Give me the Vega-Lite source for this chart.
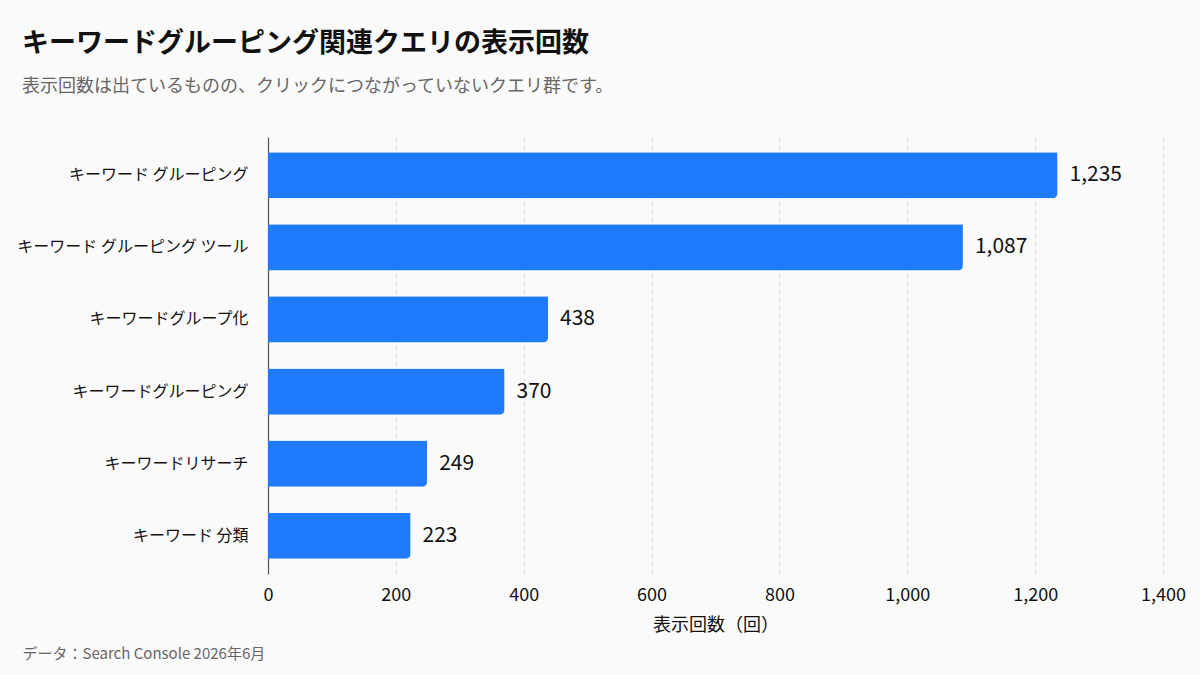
{
  "$schema": "https://vega.github.io/schema/vega-lite/v6.json",
  "width": 895,
  "height": 437,
  "autosize": {"type": "none"},
  "padding": {"left": 268, "top": 137, "right": 37, "bottom": 101},
  "background": "#fafafa",
  "title": {
    "text": "キーワードグルーピング関連クエリの表示回数",
    "subtitle": "表示回数は出ているものの、クリックにつながっていないクエリ群です。",
    "anchor": "start",
    "frame": "group",
    "dx": -246,
    "offset": 40,
    "font": "Noto Sans CJK JP",
    "fontSize": 27,
    "fontWeight": "bold",
    "color": "#111111",
    "subtitleFont": "Noto Sans CJK JP",
    "subtitleFontSize": 18,
    "subtitleColor": "#666666",
    "subtitlePadding": 20
  },
  "config": {
    "view": {"stroke": null},
    "font": "Noto Sans CJK JP"
  },
  "data": {
    "values": [
      {"query": "キーワード グルーピング", "impressions": 1235},
      {"query": "キーワード グルーピング ツール", "impressions": 1087},
      {"query": "キーワードグループ化", "impressions": 438},
      {"query": "キーワードグルーピング", "impressions": 370},
      {"query": "キーワードリサーチ", "impressions": 249},
      {"query": "キーワード 分類", "impressions": 223}
    ]
  },
  "encoding": {
    "y": {
      "field": "query",
      "type": "nominal",
      "sort": null,
      "scale": {"paddingInner": 0.36, "paddingOuter": 0.21},
      "axis": {
        "title": "データ：Search Console 2026年6月",
        "titleAngle": 0,
        "titleAlign": "left",
        "titleBaseline": "middle",
        "titleX": -246,
        "titleY": 516,
        "titleFontSize": 15,
        "titleFontWeight": "normal",
        "titleColor": "#666666",
        "labelFontSize": 16,
        "labelColor": "#111111",
        "labelPadding": 20,
        "labelLimit": 300,
        "ticks": false,
        "domainColor": "#555555",
        "domainWidth": 1.2,
        "grid": false
      }
    },
    "x": {
      "field": "impressions",
      "type": "quantitative",
      "scale": {"domain": [0, 1400], "nice": false},
      "axis": {
        "title": "表示回数（回）",
        "titleFontSize": 18,
        "titleFontWeight": "normal",
        "titleColor": "#111111",
        "titlePadding": 12,
        "values": [0, 200, 400, 600, 800, 1000, 1200, 1400],
        "format": ",d",
        "labelFontSize": 18,
        "labelColor": "#111111",
        "labelPadding": 12,
        "labelFlush": false,
        "ticks": false,
        "domain": false,
        "grid": true,
        "gridColor": "#d9d9d9",
        "gridDash": [4, 4],
        "gridWidth": 1
      }
    }
  },
  "layer": [
    {
      "mark": {"type": "bar", "color": "#1f7bfc", "cornerRadiusBottomRight": 5}
    },
    {
      "mark": {
        "type": "text",
        "align": "left",
        "baseline": "middle",
        "dx": 12,
        "fontSize": 21,
        "color": "#111111"
      },
      "encoding": {
        "text": {"field": "impressions", "type": "quantitative", "format": ",d"}
      }
    }
  ]
}
